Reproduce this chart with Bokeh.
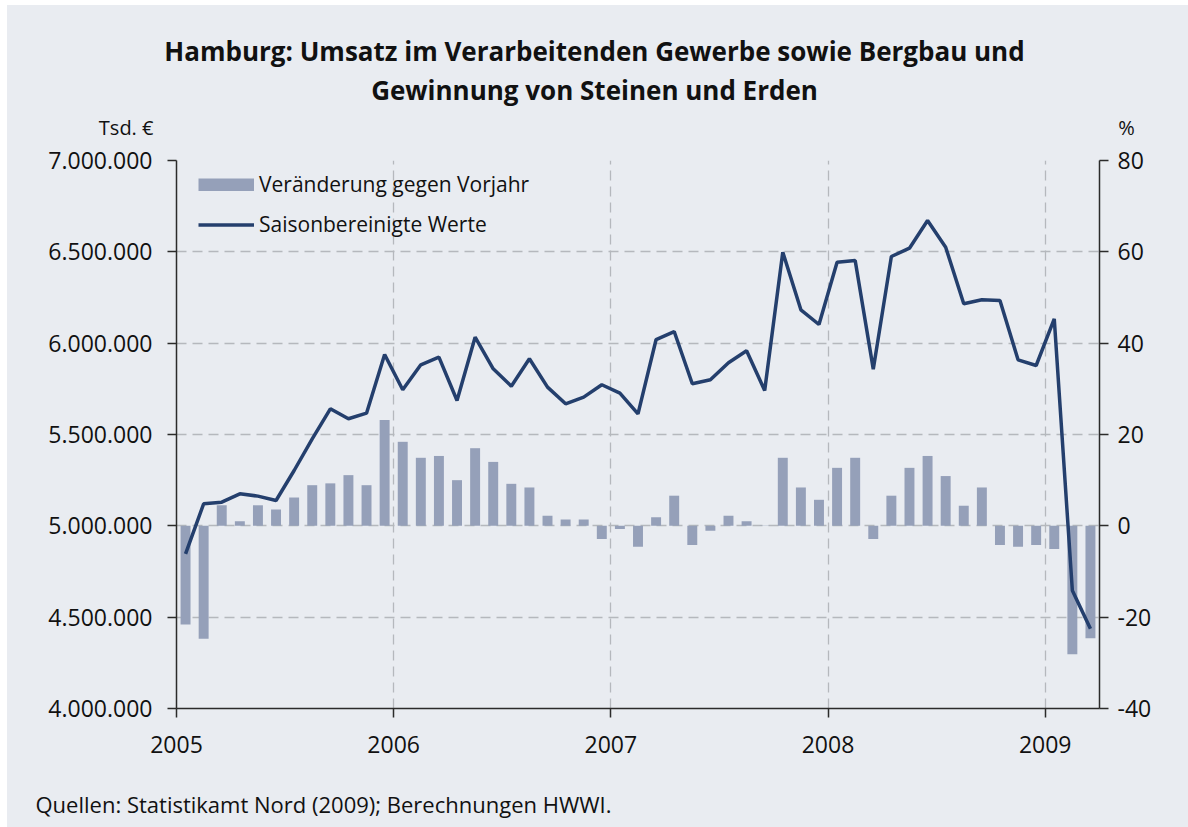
import pandas as pd
from bokeh.plotting import figure
from bokeh.layouts import column
from bokeh.models import (Range1d, LinearAxis, FixedTicker, Legend, LegendItem,
                          ColumnDataSource)
from bokeh.core.properties import value
from bokeh.embed import file_html
from bokeh.resources import INLINE

# ---------------- data ----------------
months = pd.date_range("2005-01-01", "2009-03-01", freq="MS")

# Veränderung gegen Vorjahr (%)
pct_change = [-21.6, -24.7, 4.5, 1.0, 4.5, 3.6, 6.2, 8.9, 9.3, 11.1, 8.9, 23.2,
              18.4, 14.9, 15.3, 10.0, 17.0, 14.0, 9.2, 8.4, 2.2, 1.4, 1.4, -2.9,
              -0.7, -4.6, 1.9, 6.6, -4.2, -1.1, 2.2, 1.0, 0.1, 14.9, 8.4, 5.7,
              12.7, 14.9, -2.9, 6.6, 12.7, 15.3, 10.9, 4.4, 8.4, -4.2, -4.6, -4.2,
              -5.1, -28.1, -24.6]

# Saisonbereinigte Werte (Tsd. €)
sa_values = [4847000, 5120600, 5129700, 5175400, 5162600, 5138700, 5302900, 5476400, 5640700, 5586000, 5616700, 5938000,
             5744700, 5881600, 5923200, 5686100, 6032700, 5859700, 5764500, 5914400, 5759200, 5668000, 5704400, 5772200,
             5726300, 5613300, 6019900, 6063700, 5777700, 5799600, 5892600, 5958300, 5741000, 6498200, 6182500, 6102200,
             6443400, 6452600, 5857700, 6474500, 6520000, 6671600, 6525500, 6215400, 6237300, 6233600, 5908900, 5877700,
             6133400, 4646000, 4436300]

year_ticks = [2005, 2006, 2007, 2008, 2009]
year_labels = ["2005", "2006", "2007", "2008", "2009"]
left_ticks = [4000000, 4500000, 5000000, 5500000, 6000000, 6500000, 7000000]
left_labels = ["4.000.000", "4.500.000", "5.000.000", "5.500.000", "6.000.000", "6.500.000", "7.000.000"]
right_ticks = [-40, -20, 0, 20, 40, 60, 80]
right_labels = ["-40", "-20", "0", "20", "40", "60", "80"]

title_lines = ["Hamburg: Umsatz im Verarbeitenden Gewerbe sowie Bergbau und",
               "Gewinnung von Steinen und Erden"]
left_unit = "Tsd. €"
right_unit = "%"
source_text = "Quellen: Statistikamt Nord (2009); Berechnungen HWWI."
legend_labels = ["Veränderung gegen Vorjahr", "Saisonbereinigte Werte"]

# ---------------- styles ----------------
BG = "#E9ECF1"
BAR = "#95A0B9"
LINE = "#243F6D"
GRID = "#B5B8BD"
AXIS = "#2B2B2B"
TXT = "#111111"
FONT = "Open Sans"
OFF_X, OFF_Y = 7, 5          # white page margin of the reference
W = 1188 - OFF_X
TOP_H = 141 - OFF_Y
MAIN_H = 629
BOT_H = 57
MAIN_TOP = 160 - OFF_Y - TOP_H
FRAME_LEFT = 176 - OFF_X
FRAME_W = 923


def text_panel(h):
    f = figure(width=W, height=h, x_range=Range1d(OFF_X, OFF_X + W),
               y_range=Range1d(h, 0),
               output_backend="svg", toolbar_location=None,
               x_axis_type=None, y_axis_type=None,
               min_border_left=0, min_border_right=0,
               min_border_top=0, min_border_bottom=0,
               background_fill_color=BG, border_fill_color=BG,
               outline_line_color=None, frame_align=False)
    f.grid.visible = False
    return f


# ---------------- header (x in page pixels, y from panel top) ----------------
top = text_panel(TOP_H)
top.text(x=[594, 594], y=[50 - OFF_Y, 89 - OFF_Y], text=title_lines, text_align="center",
         text_baseline="middle", text_font=value(FONT), text_font_size="26px",
         text_font_style="bold", text_color=TXT)
top.text(x=[153], y=[127 - OFF_Y], text=[left_unit], text_align="right",
         text_baseline="middle", text_font=value(FONT), text_font_size="20px",
         text_color=TXT)
top.text(x=[1126], y=[127 - OFF_Y], text=[right_unit], text_align="center",
         text_baseline="middle", text_font=value(FONT), text_font_size="20px",
         text_color=TXT)

# ---------------- main chart ----------------
x_mid = [m.year + (m.month - 1 + 0.5) / 12.0 for m in months]
src = ColumnDataSource(dict(x=x_mid, pct=pct_change, sa=sa_values))

p = figure(width=W, height=MAIN_H,
           x_range=Range1d(2005, 2009.25), y_range=Range1d(4000000, 7000000),
           output_backend="svg", toolbar_location=None,
           min_border_left=FRAME_LEFT, min_border_right=W - FRAME_LEFT - FRAME_W,
           min_border_top=MAIN_TOP, min_border_bottom=MAIN_H - MAIN_TOP - 548,
           background_fill_color=BG, border_fill_color=BG,
           outline_line_color=None, frame_align=False)

p.extra_y_ranges = {"pct": Range1d(-40, 80)}
raxis = LinearAxis(y_range_name="pct")
p.add_layout(raxis, "right")

for ax in [p.xaxis[0], p.yaxis[0], raxis]:
    ax.axis_line_color = AXIS
    ax.axis_line_width = 1.5
    ax.major_tick_line_color = AXIS
    ax.major_tick_line_width = 1.5
    ax.major_tick_out = 9
    ax.major_tick_in = 0
    ax.minor_tick_line_color = None
    ax.major_label_text_font = FONT
    ax.major_label_text_font_size = "23px"
    ax.major_label_text_color = TXT

p.xaxis[0].ticker = FixedTicker(ticks=year_ticks)
p.xaxis[0].major_label_overrides = dict(zip(year_ticks, year_labels))
p.xaxis[0].major_label_standoff = 18
p.yaxis[0].ticker = FixedTicker(ticks=left_ticks)
p.yaxis[0].major_label_overrides = dict(zip(left_ticks, left_labels))
p.yaxis[0].major_label_standoff = 15
raxis.ticker = FixedTicker(ticks=right_ticks)
raxis.major_label_overrides = dict(zip(right_ticks, right_labels))
raxis.major_label_standoff = 9

p.xgrid.ticker = FixedTicker(ticks=year_ticks[1:])
p.ygrid.ticker = FixedTicker(ticks=left_ticks)
for g in [p.xgrid[0], p.ygrid[0]]:
    g.grid_line_color = GRID
    g.grid_line_dash = "10 6"
    g.grid_line_width = 1.3

bars = p.vbar(x="x", top="pct", bottom=0, width=0.0458, source=src,
              y_range_name="pct", fill_color=BAR, line_color=None)
line = p.line(x="x", y="sa", source=src, line_color=LINE, line_width=3.5)

# legend proxy for the bar swatch: a one-point line (draws nothing in the plot)
proxy_src = ColumnDataSource(dict(x=x_mid[:1], sa=sa_values[:1]))
bar_proxy = p.line(x="x", y="sa", source=proxy_src, line_color=BAR,
                   line_width=13, line_cap="butt")

legend = Legend(items=[LegendItem(label=legend_labels[0], renderers=[bar_proxy]),
                       LegendItem(label=legend_labels[1], renderers=[line])],
                location=(22, 470), padding=0, margin=0, spacing=12,
                glyph_width=56, glyph_height=13, label_height=25,
                label_standoff=5, label_text_font=FONT,
                label_text_font_size="21px", label_text_color=TXT,
                background_fill_alpha=0, border_line_alpha=0)
p.add_layout(legend, "center")

# ---------------- footer ----------------
bot = text_panel(BOT_H)
bot.text(x=[35], y=[803 - 770], text=[source_text], text_align="left",
         text_baseline="middle", text_font=value(FONT), text_font_size="22px",
         text_color=TXT)

layout = column(top, p, bot, spacing=0,
                styles={"margin-left": f"{OFF_X}px", "margin-top": f"{OFF_Y}px",
                        "background-color": BG})
open("out.html", "w").write(file_html(layout, INLINE))
